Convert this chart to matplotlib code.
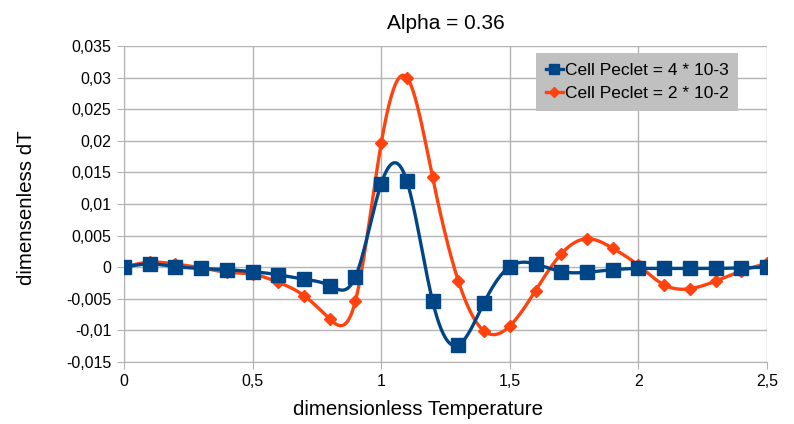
import numpy as np
import matplotlib
matplotlib.use('Agg')
from matplotlib import pyplot as plt
from matplotlib.ticker import FuncFormatter

plt.rcParams['font.family'] = ['Liberation Sans', 'DejaVu Sans']

# dimensionless temperature samples
temp = [0.0, 0.1, 0.2, 0.3, 0.4, 0.5, 0.6, 0.7, 0.8, 0.9, 1.0, 1.1, 1.2,
        1.3, 1.4, 1.5, 1.6, 1.7, 1.8, 1.9, 2.0, 2.1, 2.2, 2.3, 2.4, 2.5]

# cell Peclet = 4e-3
dT_pe_low = [0.0, 0.0005, 0.0001, -0.0002, -0.0004, -0.0007, -0.0012,
             -0.0019, -0.0029, -0.0015, 0.0132, 0.0136, -0.0054, -0.0123,
             -0.0056, 0.0001, 0.0005, -0.0007, -0.0008, -0.0004, -0.0002,
             -0.0002, -0.0002, -0.0002, -0.0001, 0.0]

# cell Peclet = 2e-2
dT_pe_high = [0.0, 0.0008, 0.0005, -0.0001, -0.0008, -0.0011, -0.0024,
              -0.0045, -0.0082, -0.0053, 0.0196, 0.0300, 0.0142, -0.0022,
              -0.0101, -0.0093, -0.0037, 0.0021, 0.0045, 0.0030, 0.0003,
              -0.0028, -0.0034, -0.0022, -0.0006, 0.0006]

labels = ['Cell Peclet = 4 * 10-3', 'Cell Peclet = 2 * 10-2']

x_ticks = [0, 0.5, 1, 1.5, 2, 2.5]
y_ticks = [-0.015, -0.01, -0.005, 0, 0.005, 0.01, 0.015, 0.02, 0.025,
           0.03, 0.035]


def natural_spline(x, y, n=40):
    # natural cubic spline through (x, y), sampled n points per interval
    x = np.asarray(x, float)
    y = np.asarray(y, float)
    m = len(x)
    h = np.diff(x)
    A = np.zeros((m, m))
    b = np.zeros(m)
    A[0, 0] = A[-1, -1] = 1.0
    for i in range(1, m - 1):
        A[i, i - 1] = h[i - 1]
        A[i, i] = 2 * (h[i - 1] + h[i])
        A[i, i + 1] = h[i]
        b[i] = 6 * ((y[i + 1] - y[i]) / h[i] - (y[i] - y[i - 1]) / h[i - 1])
    M = np.linalg.solve(A, b)
    xs, ys = [], []
    for i in range(m - 1):
        t = np.linspace(x[i], x[i + 1], n, endpoint=(i == m - 2))
        a = x[i + 1] - t
        c = t - x[i]
        s = (M[i] * a**3 + M[i + 1] * c**3) / (6 * h[i]) \
            + (y[i] / h[i] - M[i] * h[i] / 6) * a \
            + (y[i + 1] / h[i] - M[i + 1] * h[i] / 6) * c
        xs.append(t)
        ys.append(s)
    return np.concatenate(xs), np.concatenate(ys)


blue = '#004586'
orange = '#ff420e'

fig = plt.figure(figsize=(7.94, 4.24), dpi=100)
ax = fig.add_axes([124 / 794, 62 / 424, 643 / 794, 316 / 424])

xs, ys = natural_spline(temp, dT_pe_high)
ax.plot(xs, ys, color=orange, lw=2.4, zorder=3)
ax.plot(temp, dT_pe_high, ls='none', marker='D', ms=6.5, color=orange,
        zorder=3)

xs, ys = natural_spline(temp, dT_pe_low)
ax.plot(xs, ys, color=blue, lw=2.4, zorder=4)
ax.plot(temp, dT_pe_low, ls='none', marker='s', ms=10, color=blue,
        zorder=4)

h_low, = ax.plot([], [], color=blue, lw=2.4, marker='s', ms=7)
h_high, = ax.plot([], [], color=orange, lw=2.4, marker='D', ms=5.5)

ax.set_xlim(0, 2.5)
ax.set_ylim(-0.015, 0.035)
ax.set_xticks(x_ticks)
ax.set_yticks(y_ticks)
comma = FuncFormatter(lambda v, pos: ('%g' % round(v, 4)).replace('.', ','))
ax.xaxis.set_major_formatter(comma)
ax.yaxis.set_major_formatter(comma)

ax.grid(True, color='#b3b3b3', lw=1)
ax.set_axisbelow(True)
for side in ['top', 'right']:
    ax.spines[side].set_visible(False)
for side in ['left', 'bottom']:
    ax.spines[side].set_color('#b3b3b3')
ax.tick_params(direction='out', length=5, color='#b3b3b3',
               labelsize=11.5, pad=4)

ax.set_title('Alpha = 0.36', fontsize=15, pad=12)
ax.set_xlabel('dimensionless Temperature', fontsize=14.8)
ax.set_ylabel('dimensenless dT', fontsize=14.8, labelpad=22)
ax.xaxis.set_label_coords(0.457, -0.12)
ax.xaxis.label.set_verticalalignment('top')
ax.yaxis.label.set_y(0.49)

leg = ax.legend([h_low, h_high], labels, loc='upper right',
                bbox_to_anchor=(0.955, 0.978), borderaxespad=0,
                fancybox=False, frameon=True, fontsize=12.5,
                handlelength=1.0, handletextpad=0.1, borderpad=0.55,
                labelspacing=0.5)
leg.get_frame().set_facecolor('#c0c0c0')
leg.get_frame().set_edgecolor('none')
leg.get_frame().set_alpha(1)

fig.savefig('out.png', dpi=100)
